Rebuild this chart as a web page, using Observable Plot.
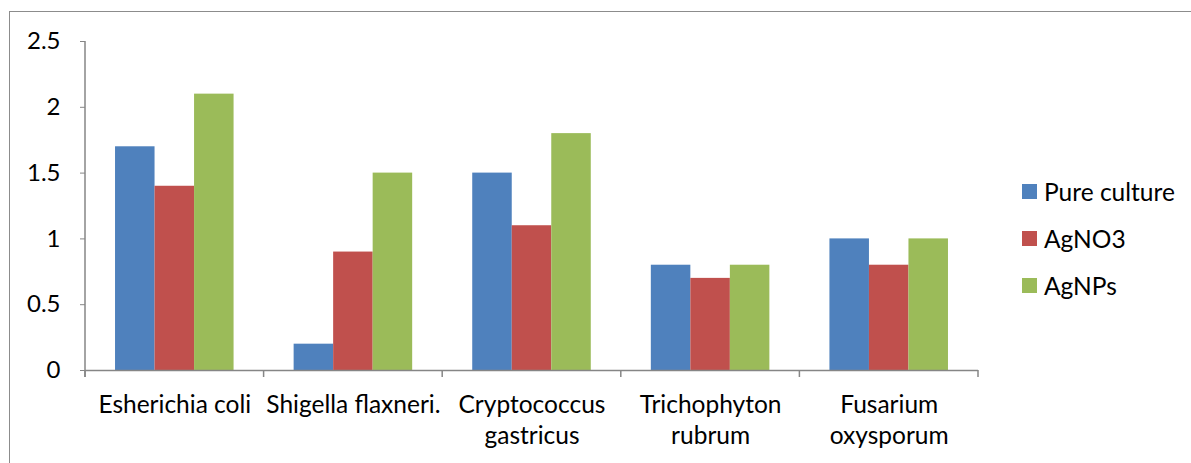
<!DOCTYPE html>
<html>
<head>
<meta charset="utf-8">
<script src="https://cdn.jsdelivr.net/npm/d3@7"></script>
<script src="https://cdn.jsdelivr.net/npm/@observablehq/plot@0.6"></script>
<style>
  html, body { margin: 0; padding: 0; background: #fff; }
  #wrap { position: relative; width: 1191px; height: 463px; overflow: hidden; font-family: Lato, "Open Sans", sans-serif; }
  #border { position: absolute; left: 9px; top: 11px; width: 1300px; height: 600px; border-left: 1.5px solid #8c8c8c; border-top: 1.5px solid #8c8c8c; pointer-events: none; }
  #legend { position: absolute; left: 1022px; top: 168px; font-size: 24.5px; color: #000; }
  .item { display: flex; align-items: center; height: 47px; }
  .sw { width: 15px; height: 15px; margin-right: 7px; }
</style>
</head>
<body>
<div id="wrap">
  <div id="chart"></div>
  <div id="border"></div>
  <div id="legend"></div>
</div>
<script>
const categories = ["Esherichia coli", "Shigella flaxneri.", "Cryptococcus gastricus", "Trichophyton rubrum", "Fusarium oxysporum"];
const categoryLabels = ["Esherichia coli", "Shigella flaxneri.", "Cryptococcus\ngastricus", "Trichophyton\nrubrum", "Fusarium\noxysporum"];
const seriesNames = ["Pure culture", "AgNO3", "AgNPs"];
const seriesColors = ["#4F81BD", "#C0504D", "#9BBB59"];
const pureCulture = [1.7, 0.2, 1.5, 0.8, 1.0];
const agNO3 = [1.4, 0.9, 1.1, 0.7, 0.8];
const agNPs = [2.1, 1.5, 1.8, 0.8, 1.0];
const yTicks = [0, 0.5, 1, 1.5, 2, 2.5];

const seriesValues = [pureCulture, agNO3, agNPs];
const rows = [];
categories.forEach((c, i) => {
  seriesNames.forEach((s, j) => rows.push({category: c, series: s, value: seriesValues[j][i]}));
});

const axisColor = "#868686";

const chart = Plot.plot({
  width: 1191,
  height: 463,
  marginLeft: 85,
  marginRight: 213,
  marginTop: 41,
  marginBottom: 93,
  style: {fontFamily: "Lato, 'Open Sans', sans-serif", background: "transparent", color: "#000"},
  fx: {domain: categories, padding: 0, round: false, label: null},
  x: {domain: seriesNames, paddingInner: 0, paddingOuter: 0.76, round: false, axis: null},
  y: {domain: [0, 2.5], label: null},
  color: {domain: seriesNames, range: seriesColors},
  marks: [
    Plot.barY(rows, {fx: "category", x: "series", y: "value", fill: "series"}),
    Plot.ruleY([0], {stroke: axisColor, strokeWidth: 1.5}),
    Plot.axisY({ticks: yTicks, tickSize: 5, tickPadding: 20, stroke: axisColor, fontSize: 24, fill: "#000", label: null, tickFormat: d => String(d)}),
    Plot.axisFx({anchor: "bottom", tickSize: 0, tickPadding: 20, fontSize: 24.5, fill: "#000", lineHeight: 1.28, label: null,
      tickFormat: d => categoryLabels[categories.indexOf(d)]})
  ]
});
document.getElementById("chart").appendChild(chart);

// Category boundary ticks and y-axis line, placed with Plot's own scales
const fx = chart.scale("fx");
const y = chart.scale("y");
const svg = d3.select(chart);
const y0 = y.apply(0), yTop = y.apply(2.5);
const bounds = categories.map(c => fx.apply(c)).concat([fx.apply(categories[categories.length - 1]) + fx.bandwidth]);
const g = svg.append("g").attr("stroke", axisColor).attr("stroke-width", 1.5);
g.selectAll("line.b").data(bounds).join("line")
  .attr("x1", d => d).attr("x2", d => d).attr("y1", y0).attr("y2", y0 + 7);
g.append("line").attr("x1", bounds[0]).attr("x2", bounds[0]).attr("y1", yTop).attr("y2", y0 + 7);

// Legend
const legend = document.getElementById("legend");
seriesNames.forEach((s, i) => {
  const it = document.createElement("div");
  it.className = "item";
  const sw = document.createElement("div");
  sw.className = "sw";
  sw.style.background = seriesColors[i];
  const tx = document.createElement("span");
  tx.textContent = s;
  it.appendChild(sw); it.appendChild(tx);
  legend.appendChild(it);
});
</script>
</body>
</html>
